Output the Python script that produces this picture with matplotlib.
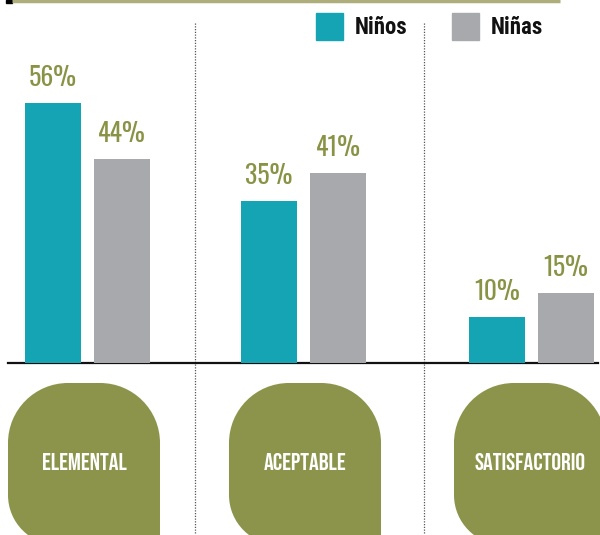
import matplotlib
matplotlib.use("Agg")
import matplotlib.pyplot as plt
from matplotlib.path import Path
from matplotlib.patches import PathPatch, Rectangle

categories = ["ELEMENTAL", "ACEPTABLE", "SATISFACTORIO"]
ninos = [56, 35, 10]
ninas = [44, 41, 15]
series_names = ["Niños", "Niñas"]

TEAL = "#14a4b4"
GRAY = "#a8a9ad"
OLIVE = "#8b944a"
LABEL = "#8a9345"

PCT_FONT = ["Oswald", "DejaVu Sans"]
TAB_FONT = ["Bebas Neue", "DejaVu Sans"]
LEG_FONT = ["Roboto Condensed", "DejaVu Sans"]

# layout in pixels
group_x = [87.5, 303.5, 531.5]
bar_w = 56
off = 34.5
base_y = 363
px_per_pct = 4.64
shape_left = [8, 229, 454]
sep_x = [195, 424]


def tab_path(x0, y0, w, h, rt, rb):
    # rounded top corners and bottom-left, square bottom-right (y grows downward)
    k = 0.5523
    x1, y1 = x0 + w, y0 + h
    v = [(x0 + rt, y0), (x1 - rt, y0),
         (x1 - rt + k * rt, y0), (x1, y0 + rt - k * rt), (x1, y0 + rt),
         (x1, y1), (x0 + rb, y1),
         (x0 + rb - k * rb, y1), (x0, y1 - rb + k * rb), (x0, y1 - rb),
         (x0, y0 + rt),
         (x0, y0 + rt - k * rt), (x0 + rt - k * rt, y0), (x0 + rt, y0),
         (x0 + rt, y0)]
    c = [Path.MOVETO, Path.LINETO,
         Path.CURVE4, Path.CURVE4, Path.CURVE4,
         Path.LINETO, Path.LINETO,
         Path.CURVE4, Path.CURVE4, Path.CURVE4,
         Path.LINETO,
         Path.CURVE4, Path.CURVE4, Path.CURVE4,
         Path.CLOSEPOLY]
    return Path(v, c)


fig = plt.figure(figsize=(6, 5.35), dpi=100)

deco = fig.add_axes([0, 0, 1, 1], zorder=0)
deco.set_xlim(0, 600)
deco.set_ylim(535, 0)
deco.axis("off")

# top rule
deco.plot([12, 560], [1, 1], color="#aeae7c", lw=2.5, solid_capstyle="butt")
deco.add_patch(Rectangle((6, 0), 6, 2.5, color="black"))

# dotted separators
for sx in sep_x:
    deco.plot([sx, sx], [23, 535], color="#555555", lw=0.9, ls=(0, (1, 1.2)))

# baseline
deco.plot([8, 598], [base_y, base_y], color="#111111", lw=1.6)

# category tabs
for left, cat in zip(shape_left, categories):
    deco.add_patch(PathPatch(tab_path(left, 383, 152, 162, 60, 50),
                             facecolor=OLIVE, edgecolor="none"))
    deco.text(left + 76, 462, cat, color="white", fontsize=17.5,
              family=TAB_FONT, ha="center", va="center")

# legend
for lx, col, name in zip([316, 452], [TEAL, GRAY], series_names):
    deco.add_patch(Rectangle((lx, 13), 27, 27, color=col))
    deco.text(lx + 39, 28, name, fontsize=16.5, fontweight="bold",
              family=LEG_FONT, ha="left", va="center", color="#111111")

# bars
ax = fig.add_axes([0, 1 - base_y / 535, 1, base_y / 535], zorder=1)
ax.patch.set_visible(False)
ax.set_xlim(0, 600)
ax.set_ylim(0, base_y / px_per_pct)
ax.axis("off")

xn = [g - off for g in group_x]
xa = [g + off for g in group_x]
ax.bar(xn, ninos, width=bar_w, color=TEAL)
ax.bar(xa, ninas, width=bar_w, color=GRAY)
for x, v in zip(xn + xa, ninos + ninas):
    ax.text(x, v + 2.6, f"{v}%", color=LABEL, fontsize=18.5, family=PCT_FONT,
            fontweight="light", ha="center", va="bottom")

fig.savefig("out.png", dpi=100)
